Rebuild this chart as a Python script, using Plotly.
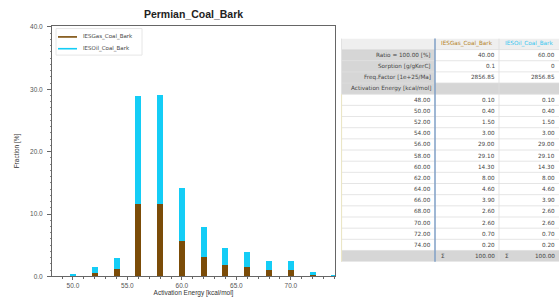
import plotly.graph_objects as go

energies = [48, 50, 52, 54, 56, 58, 60, 62, 64, 66, 68, 70, 72, 74]
fraction_total = [0.10, 0.40, 1.50, 3.00, 29.00, 29.10, 14.30, 8.00, 4.60, 3.90, 2.60, 2.60, 0.70, 0.20]
gas_values = [0.04, 0.16, 0.60, 1.20, 11.60, 11.64, 5.72, 3.20, 1.84, 1.56, 1.04, 1.04, 0.28, 0.08]
oil_values = [0.06, 0.24, 0.90, 1.80, 17.40, 17.46, 8.58, 4.80, 2.76, 2.34, 1.56, 1.56, 0.42, 0.12]
series_names = ["IESGas_Coal_Bark", "IESOil_Coal_Bark"]
param_labels = ["Ratio = 100.00 [%]", "Sorption [g/gKerC]", "Freq.Factor [1e+25/Ma]"]
gas_params = ["40.00", "0.1", "2856.85"]
oil_params = ["60.00", "0", "2856.85"]
energy_header = "Activation Energy [kcal/mol]"
sum_text = "100.00"

BROWN = "#7b4c08"
CYAN = "#14cdf6"
W, H = 559, 303


def PX(x):
    return x / W


def PY(y):
    return 1 - y / H


fig = go.Figure()
fig.add_trace(go.Bar(x=energies, y=gas_values, marker=dict(color=BROWN, line=dict(width=0)),
                     width=0.55, showlegend=False, name=series_names[0]))
fig.add_trace(go.Bar(x=energies, y=oil_values, marker=dict(color=CYAN, line=dict(width=0)),
                     width=0.55, showlegend=False, name=series_names[1]))

# ---------- table on its own hidden axes (x2: pixel-like column units, y2: row index) ----------
col_edges = [0, 94, 158, 218]
n_rows = 2 + len(param_labels) + len(energies) + 1  # header, params, act-energy, energies, sum
fig.add_trace(go.Scatter(x=[None], y=[None], xaxis="x2", yaxis="y2", showlegend=False))

GRAY = "#d6d6d6"
LIGHT = "#efefef"
GRID = "#dedede"
TXT = "#444"
shapes = []
annotations = []


def rect(c0, c1, r0, r1, color):
    shapes.append(dict(type="rect", xref="x2", yref="y2", x0=c0, x1=c1, y0=r0, y1=r1,
                       fillcolor=color, line=dict(width=0), layer="below"))


def cell_text(col, row, text, align="right", color=TXT):
    if align == "right":
        x, anchor = col_edges[col + 1] - 2.5, "right"
    elif align == "left":
        x, anchor = col_edges[col] + 4, "left"
    else:
        x, anchor = (col_edges[col] + col_edges[col + 1]) / 2, "center"
    annotations.append(dict(xref="x2", yref="y2", x=x, y=row + 0.5, text=text, showarrow=False,
                            xanchor=anchor, yanchor="middle",
                            font=dict(family="DejaVu Sans", size=5.7, color=color)))


# header row
rect(0, col_edges[-1], 0, 1, LIGHT)
cell_text(1, 0, series_names[0], "center", "#b58428")
cell_text(2, 0, series_names[1], "center", "#35c6ef")
# parameter rows
for i, (lab, g, o) in enumerate(zip(param_labels, gas_params, oil_params)):
    r = 1 + i
    rect(0, col_edges[1], r, r + 1, GRAY)
    cell_text(0, r, lab)
    cell_text(1, r, g)
    cell_text(2, r, o)
# activation energy header row
r_act = 1 + len(param_labels)
rect(0, col_edges[-1], r_act, r_act + 1, GRAY)
cell_text(0, r_act, energy_header)
# energy rows
for i, (e, v) in enumerate(zip(energies, fraction_total)):
    r = r_act + 1 + i
    cell_text(0, r, f"{e:.2f}")
    cell_text(1, r, f"{v:.2f}")
    cell_text(2, r, f"{v:.2f}")
# sum row
r_sum = n_rows - 1
rect(0, col_edges[-1], r_sum, r_sum + 1, GRAY)
for c in (1, 2):
    cell_text(c, r_sum, "Σ", "left")
    cell_text(c, r_sum, sum_text)
# grid lines
for r in range(1, n_rows):
    shapes.append(dict(type="line", xref="x2", yref="y2", x0=0, x1=col_edges[-1], y0=r, y1=r,
                       line=dict(color=GRID, width=0.8), layer="below"))
shapes.append(dict(type="line", xref="x2", yref="y2", x0=col_edges[2], x1=col_edges[2],
                   y0=0, y1=n_rows, line=dict(color=GRID, width=0.8), layer="below"))
shapes.append(dict(type="line", xref="x2", yref="y2", x0=0.5, x1=0.5, y0=0, y1=r_act + 1,
                   line=dict(color="#e2e2e2", width=1), layer="below"))
shapes.append(dict(type="line", xref="x2", yref="y2", x0=0.5, x1=0.5, y0=r_act + 1, y1=n_rows,
                   line=dict(color="#ebe6c6", width=1.2), layer="below"))
# blue separator after the label column
shapes.append(dict(type="line", xref="x2", yref="y2", x0=col_edges[1], x1=col_edges[1],
                   y0=-0.3, y1=n_rows + 0.1, line=dict(color="#7f9fc6", width=1.5)))

# ---------- legend (line samples + labels in the plot corner) ----------
leg_colors = [BROWN, CYAN]
shapes.append(dict(type="rect", xref="paper", yref="paper", x0=PX(56), x1=PX(142),
                   y0=PY(54), y1=PY(27), line=dict(color="#e6e6e6", width=1),
                   fillcolor="rgba(255,255,255,0)"))
for i, (nm, colr) in enumerate(zip(series_names, leg_colors)):
    yy = PY(35.5 + 12 * i)
    shapes.append(dict(type="line", xref="paper", yref="paper", x0=PX(58), x1=PX(77),
                       y0=yy, y1=yy, line=dict(color=colr, width=1.6)))
    annotations.append(dict(xref="paper", yref="paper", x=PX(81), y=yy, text=nm, showarrow=False,
                            xanchor="left", yanchor="middle",
                            font=dict(family="DejaVu Sans", size=5.5, color="#444")))

fig.update_layout(
    width=W, height=H,
    margin=dict(l=0, r=0, t=0, b=0),
    paper_bgcolor="white", plot_bgcolor="white",
    barmode="stack", bargap=0, showlegend=False,
    font=dict(family="Arial", size=6.5, color="#444"),
    title=dict(text="<b>Permian_Coal_Bark</b>", x=PX(193.5), xanchor="center",
               y=PY(14), yanchor="middle", font=dict(family="Arial", size=10.5, color="#222")),
    xaxis=dict(domain=[PX(52), PX(335)], range=[48.08, 74.05], showgrid=False, zeroline=False,
               tick0=50, dtick=5, tickformat=".1f", ticks="outside", ticklen=3, tickcolor="#666",
               minor=dict(dtick=1, ticks="outside", ticklen=2, tickcolor="#666"),
               showline=True, linecolor="#666", linewidth=1, mirror=True,
               title=dict(text="Activation Energy [kcal/mol]", standoff=2,
                          font=dict(family="Arial", size=6.5, color="#333")),
               tickfont=dict(family="Arial", size=6.5, color="#555")),
    yaxis=dict(domain=[PY(279), PY(24)], range=[0, 40.2], showgrid=False, zeroline=False,
               tick0=0, dtick=10, tickformat=".1f", ticks="outside", ticklen=4, tickcolor="#666",
               ticklabelstandoff=3,
               minor=dict(dtick=1, ticks="outside", ticklen=1.5, tickcolor="#888"),
               showline=True, linecolor="#666", linewidth=1, mirror=True,
               title=dict(text="Fraction [%]", standoff=9,
                          font=dict(family="Arial", size=6.5, color="#333")),
               tickfont=dict(family="Arial", size=6.5, color="#555")),
    xaxis2=dict(domain=[PX(341), 1.0], range=[0, col_edges[-1]], anchor="y2", visible=False,
                fixedrange=True),
    yaxis2=dict(domain=[PY(264), PY(37)], range=[n_rows, 0], anchor="x2", visible=False,
                fixedrange=True),
    shapes=shapes,
    annotations=annotations,
)

# remove the default 8px page margin so the 559x303 figure fills the window exactly
fig.write_html("out.html", config={"displayModeBar": False},
               post_script="document.body.style.margin='0';document.body.style.overflow='hidden';")
